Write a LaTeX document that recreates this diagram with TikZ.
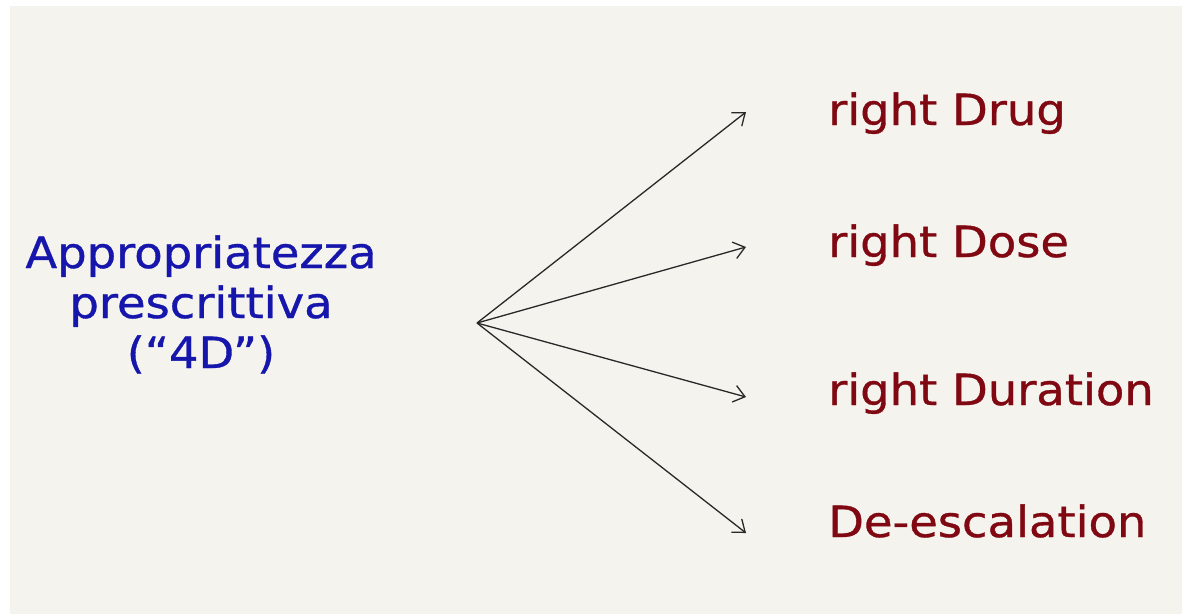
\documentclass[tikz,border=0pt]{standalone}
\usepackage{fontspec}
\setmainfont{DejaVu Sans}[FakeStretch=1.08,FakeBold=0.8]
\usetikzlibrary{arrows.meta}
\definecolor{paper}{RGB}{245,243,238}
\definecolor{titleblue}{RGB}{22,22,172}
\definecolor{itemred}{RGB}{128,8,18}
\definecolor{inkgray}{RGB}{40,40,40}
\tikzset{
  title/.style={text=titleblue, align=center, font=\fontsize{43}{50}\selectfont, inner sep=0pt},
  item/.style={text=itemred, anchor=base west, font=\fontsize{43}{50}\selectfont, inner sep=0pt},
  fan/.style={draw=inkgray, line width=1.3pt, -{Straight Barb[length=11pt,width=17pt,line width=1.3pt]}}
}
\begin{document}
\begin{tikzpicture}[x=1pt,y=-1pt]
  \useasboundingbox (0,0) rectangle (1182,614);
  % paper sheet
  \fill[paper] (10,6) rectangle (1182,614);

  % left title, three centred lines (base = last line)
  \node[title, anchor=base] (title) at (201,368)
    {Appropriatezza\\prescrittiva\\(“4D”)};

  % the four criteria
  \node[item] (drug) at (828,125) {right Drug};
  \node[item] (dose) at (828,257) {right Dose};
  \node[item] (dur)  at (828,405) {right Duration};
  \node[item] (desc) at (828,537) {De-escalation};

  % fan of arrows
  \coordinate (hub) at (477,323);
  \coordinate (tDrug) at (746,112);
  \coordinate (tDose) at (746,247);
  \coordinate (tDur)  at (746,397);
  \coordinate (tDesc) at (746,533);
  \draw[fan] (hub) -- (tDrug);
  \draw[fan] (hub) -- (tDose);
  \draw[fan] (hub) -- (tDur);
  \draw[fan] (hub) -- (tDesc);
\end{tikzpicture}
\end{document}
